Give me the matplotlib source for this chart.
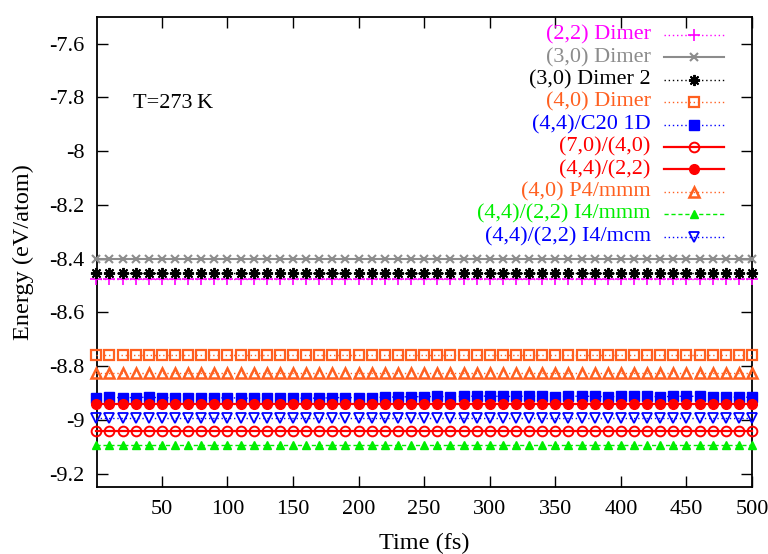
import matplotlib
matplotlib.use("Agg")
import matplotlib.pyplot as plt
import numpy as np

plt.rcParams['font.family'] = ['Liberation Serif', 'DejaVu Serif']

# ---- data ----
time_fs = list(range(0, 501, 10))
n = len(time_fs)
labels = ["(2,2) Dimer", "(3,0) Dimer", "(3,0) Dimer 2", "(4,0) Dimer",
          "(4,4)/C20 1D", "(7,0)/(4,0)", "(4,4)/(2,2)", "(4,0) P4/mmm",
          "(4,4)/(2,2) I4/mmm", "(4,4)/(2,2) I4/mcm"]
e_22_dimer = [-8.476] * n
e_30_dimer = [-8.403] * n
e_30_dimer2 = [-8.452] * n
e_40_dimer = [-8.760] * n
e_44_c20 = [-8.918, -8.916, -8.918, -8.917, -8.916, -8.918, -8.918, -8.917, -8.918, -8.919,
            -8.918, -8.919, -8.920, -8.919, -8.918, -8.919, -8.920, -8.919, -8.918, -8.917,
            -8.918, -8.917, -8.916, -8.915, -8.914, -8.914, -8.913, -8.914, -8.913, -8.912,
            -8.912, -8.913, -8.913, -8.912, -8.913, -8.914, -8.913, -8.912, -8.913, -8.914,
            -8.913, -8.912, -8.913, -8.914, -8.913, -8.912, -8.913, -8.914, -8.915, -8.916,
            -8.916]
e_70_40 = [-9.042] * n
e_44_22 = [-8.942] * n
e_40_p4mmm = [-8.826] * n
e_44_22_i4mmm = [-9.094] * n
e_44_22_i4mcm = [-8.994] * n
series = [e_22_dimer, e_30_dimer, e_30_dimer2, e_40_dimer, e_44_c20,
          e_70_40, e_44_22, e_40_p4mmm, e_44_22_i4mmm, e_44_22_i4mcm]
x_ticks = [50, 100, 150, 200, 250, 300, 350, 400, 450, 500]
y_ticks = [-7.6, -7.8, -8.0, -8.2, -8.4, -8.6, -8.8, -9.0, -9.2]
y_ticklabels = ["-7.6", "-7.8", "-8", "-8.2", "-8.4", "-8.6", "-8.8", "-9", "-9.2"]

# ---- styles ----
orange = '#ff6020'
styles = [
    dict(color='#ff00ff', ls=(0, (1, 2)), lw=1.0, marker='+', ms=8, mfc='#ff00ff', mew=1.2),
    dict(color='#8c8c8c', ls='-', lw=1.5, marker='x', ms=6, mfc='#8c8c8c', mew=1.5),
    dict(color='black', ls=(0, (1, 2)), lw=1.0, marker=(8, 2, 0), ms=8, mfc='black', mew=1.4),
    dict(color=orange, ls=(0, (1, 2)), lw=1.0, marker='s', ms=6.5, mfc='none', mew=1.6),
    dict(color='#0000ff', ls=(0, (1, 2)), lw=1.0, marker='s', ms=7, mfc='#0000ff', mew=1.0),
    dict(color='#ff0000', ls='-', lw=1.6, marker='o', ms=7, mfc='none', mew=1.4),
    dict(color='#ff0000', ls='-', lw=1.6, marker='o', ms=7, mfc='#ff0000', mew=1.0),
    dict(color=orange, ls=(0, (1, 2)), lw=1.0, marker='^', ms=6.5, mfc='none', mew=1.8),
    dict(color='#00ee00', ls=(0, (3, 2)), lw=1.0, marker='^', ms=5.5, mfc='#00ee00', mew=1.0),
    dict(color='#0000ff', ls=(0, (1, 2)), lw=1.0, marker='v', ms=6.5, mfc='none', mew=1.3),
]

fig = plt.figure(figsize=(7.68, 5.54), dpi=100)
ax = fig.add_axes([97/768, 1 - 487/554, 655/768, 470.3/554])

for vals, st in zip(series, styles):
    ax.plot(time_fs, vals, color=st['color'], ls=st['ls'], lw=st['lw'],
            marker=st['marker'], ms=st['ms'], mfc=st['mfc'], mec=st['color'],
            mew=st['mew'], clip_on=False, zorder=3)

ax.set_xlim(0.5, 500)
ax.set_ylim(-9.25, -7.5)
ax.set_xticks(x_ticks)
ax.set_xticklabels([str(v) for v in x_ticks])
ax.set_yticks(y_ticks)
ax.set_yticklabels(y_ticklabels)
ax.tick_params(direction='in', length=8, width=1.0, top=True, right=True,
               labelsize=16, pad=9)
for sp in ax.spines.values():
    sp.set_linewidth(1.3)

ax.set_xlabel("Time (fs)", fontsize=17.5, labelpad=10)
ax.set_ylabel("Energy (eV/atom)", fontsize=17.5, labelpad=11)

ax.text(0.055, 0.815, "T=273\u2009K", transform=ax.transAxes, fontsize=16,
        ha='left', va='center')

# ---- legend (manual, right-aligned text) ----
y0 = 0.9611
dy = 0.04763
xt = 0.8453
xl1, xl2 = 0.8656, 0.9573
xm = (xl1 + xl2) / 2
for i, (lab, st) in enumerate(zip(labels, styles)):
    y = y0 - i * dy
    ax.text(xt, y, lab, transform=ax.transAxes, color=st['color'], fontsize=16,
            ha='right', va='center')
    ax.plot([xl1, xl2], [y, y], transform=ax.transAxes, color=st['color'],
            ls=st['ls'], lw=st['lw'], clip_on=False)
    ax.plot([xm], [y], transform=ax.transAxes, marker=st['marker'], ms=st['ms'],
            mfc=st['mfc'], mec=st['color'], mew=st['mew'], ls='none', clip_on=False)

fig.savefig("out.png", dpi=100)
